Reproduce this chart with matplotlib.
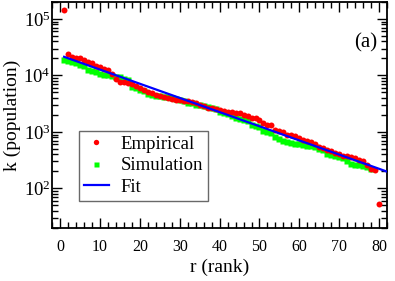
import numpy as np
import matplotlib
matplotlib.use("Agg")
from matplotlib import pyplot as plt
from matplotlib.ticker import MultipleLocator, LogLocator, NullFormatter

plt.rcParams['font.family'] = ['Liberation Serif', 'DejaVu Serif']
plt.rcParams['mathtext.fontset'] = 'stix'

# empirical populations by rank
emp_r = np.arange(1, 81)
emp_k = [145000, 24000, 21000, 20500, 20000, 19000, 17500, 16800, 14500, 14000,
         13000, 12400, 10800, 8800, 7800, 7600, 7500, 7000, 6400, 6000,
         5500, 5100, 4800, 4500, 4300, 4100, 3950, 3850, 3700, 3650,
         3550, 3500, 3400, 3200, 3000, 2850, 2700, 2630, 2500, 2400,
         2330, 2280, 2230, 2180, 2130, 2000, 1880, 1780, 1740, 1600,
         1450, 1350, 1300, 1100, 1050, 1000, 890, 880, 850, 780,
         720, 680, 660, 600, 540, 510, 480, 455, 430, 400,
         380, 370, 360, 350, 325, 300, 260, 225, 215, 52]

# simulation
sim_r = np.arange(1, 79)
sim_k = [18500, 17800, 17000, 16500, 15500, 14800, 12500, 12000, 11500, 10800,
         10300, 10000, 9600, 9500, 9200, 8800, 8300, 6200, 5900, 5600,
         5300, 4700, 4500, 4400, 4300, 4200, 4100, 4000, 3900, 3750,
         3600, 3300, 3200, 3050, 2950, 2850, 2750, 2650, 2500, 2300,
         2200, 2100, 1900, 1800, 1700, 1600, 1550, 1300, 1250, 1200,
         1050, 1000, 950, 810, 760, 700, 660, 640, 620, 610,
         590, 570, 555, 540, 500, 470, 410, 395, 380, 360,
         340, 310, 275, 265, 255, 245, 235, 225]

# exponential fit: log10 k = a - b r
fit_a = 4.355
fit_b = 0.0251
fit_r = np.array([1, 82])
fit_k = 10 ** (fit_a - fit_b * fit_r)

fig = plt.figure(figsize=(3.95, 2.81), dpi=100)
ax = fig.add_axes([0.132, 0.189, 0.848, 0.804])

ax.plot(emp_r, emp_k, 'o', color='#ff0000', ms=4.3, mec='none', label='Empirical', zorder=3)
ax.plot(sim_r, sim_k, 's', color='#00ff00', ms=4.0, mec='none', label='Simulation', zorder=2)
ax.plot(fit_r, fit_k, '-', color='#0000ff', lw=1.6, label='Fit', zorder=4)

ax.set_yscale('log')
ax.set_xlim(-2, 82)
ax.set_ylim(20, 2e5)
ax.xaxis.set_major_locator(MultipleLocator(10))
ax.xaxis.set_minor_locator(MultipleLocator(2))
ax.yaxis.set_major_locator(LogLocator(base=10, numticks=10))
ax.yaxis.set_minor_locator(LogLocator(base=10, subs=np.arange(2, 10), numticks=20))
ax.yaxis.set_minor_formatter(NullFormatter())

ax.tick_params(which='both', direction='in', top=True, right=True)
ax.tick_params(axis='x', labelsize=11.5, pad=8)
ax.tick_params(axis='y', labelsize=13.5, pad=1)
ax.tick_params(which='major', length=7, width=1)
ax.tick_params(which='minor', length=4, width=1)
for s in ax.spines.values():
    s.set_linewidth(1.3)

ax.set_xlabel('r (rank)', fontsize=14, labelpad=3)
ax.set_ylabel('k (population)', fontsize=14, labelpad=2)
ax.text(0.935, 0.82, '(a)', transform=ax.transAxes, fontsize=15, ha='center', va='center')

leg = ax.legend(loc='lower left', bbox_to_anchor=(0.08, 0.12), borderaxespad=0,
                fontsize=13.5, frameon=True, fancybox=False, edgecolor='#444444',
                handlelength=1.3, borderpad=0.28, labelspacing=0.22,
                handletextpad=0.65, markerscale=0.9)
leg.get_frame().set_linewidth(1.0)

fig.savefig('out.png', dpi=100)
